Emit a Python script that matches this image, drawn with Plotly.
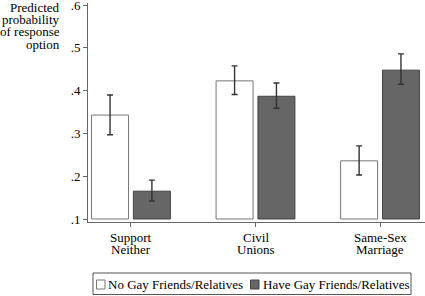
import plotly.graph_objects as go

categories = ["Support<br>Neither", "Civil<br>Unions", "Same-Sex<br>Marriage"]
series_names = ["No Gay Friends/Relatives", "Have Gay Friends/Relatives"]
no_friends = [0.343, 0.423, 0.236]
no_friends_hi = [0.390, 0.458, 0.271]
no_friends_lo = [0.297, 0.391, 0.203]
have_friends = [0.165, 0.387, 0.448]
have_friends_hi = [0.191, 0.418, 0.486]
have_friends_lo = [0.142, 0.359, 0.415]
base_value = 0.1
tick_vals = [0.1, 0.2, 0.3, 0.4, 0.5, 0.6]
tick_labels = [".1", ".2", ".3", ".4", ".5", ".6"]
y_title_lines = ["Predicted", "probability", "of response", "option"]

FONT = "Liberation Serif, DejaVu Serif, serif"
xs = list(range(len(categories)))

# layout in pixels (plot area: x 88..425, y 3..222)
L, T, PH, PW = 88, 3, 219, 337
def py(ypx):
    return (T + PH - ypx) / PH
def px(xpx):
    return (xpx - L) / PW

def bar(name, vals, hi, lo, fill, line):
    return go.Bar(
        name=name, x=xs, y=[v - base_value for v in vals], base=base_value,
        marker=dict(color=fill, line=dict(color=line, width=1)),
        error_y=dict(type="data", symmetric=False,
                     array=[h - v for h, v in zip(hi, vals)],
                     arrayminus=[v - l for v, l in zip(vals, lo)],
                     color="#333333", thickness=1.4, width=3),
        showlegend=False,
    )

fig = go.Figure()
fig.add_trace(bar(series_names[0], no_friends, no_friends_hi, no_friends_lo, "white", "#777777"))
fig.add_trace(bar(series_names[1], have_friends, have_friends_hi, have_friends_lo, "#666666", "#444444"))

annotations = []
# y-axis title, right-aligned, horizontal lines
for k, line in enumerate(y_title_lines):
    annotations.append(dict(text=line, xref="paper", yref="paper",
                            x=px(62), y=py(7 + 12.4 * k),
                            xanchor="right", yanchor="middle", showarrow=False))
# category labels (two lines each)
for i, cat in enumerate(categories):
    for k, line in enumerate(cat.split("<br>")):
        annotations.append(dict(text=line, xref="x", yref="paper",
                                x=xs[i], y=py(237 + 12.5 * k),
                                xanchor="center", yanchor="middle", showarrow=False))
# legend texts
annotations.append(dict(text=series_names[0], xref="paper", yref="paper",
                        x=px(106), y=py(284.5), xanchor="left", yanchor="middle", showarrow=False))
annotations.append(dict(text=series_names[1], xref="paper", yref="paper",
                        x=px(261), y=py(284.5), xanchor="left", yanchor="middle", showarrow=False))

shapes = [
    dict(type="rect", xref="paper", yref="paper", x0=px(93), x1=px(411),
         y0=py(273), y1=py(294.5), line=dict(color="#555555", width=1), fillcolor="white"),
    dict(type="rect", xref="paper", yref="paper", x0=px(96.5), x1=px(105),
         y0=py(280), y1=py(289), line=dict(color="#777777", width=1), fillcolor="white"),
    dict(type="rect", xref="paper", yref="paper", x0=px(250.5), x1=px(259),
         y0=py(280), y1=py(289), line=dict(color="#444444", width=1), fillcolor="#666666"),
]

fig.update_layout(
    width=425, height=296,
    margin=dict(l=L, r=0, t=T, b=296 - T - PH),
    paper_bgcolor="white", plot_bgcolor="white",
    barmode="group", bargap=0.328, bargroupgap=0.116,
    font=dict(family=FONT, size=13, color="black"),
    xaxis=dict(range=[-0.345, 2.361], tickvals=xs, showticklabels=False,
               showline=True, linecolor="#666666", linewidth=1,
               ticks="outside", ticklen=4, tickcolor="#666666",
               showgrid=False, zeroline=False, automargin=False),
    yaxis=dict(range=[0.093, 0.605], tickvals=tick_vals, ticktext=tick_labels,
               showline=True, linecolor="#666666", linewidth=1,
               ticks="outside", ticklen=4, tickcolor="#666666",
               showgrid=False, zeroline=False, automargin=False,
               ticklabeloverflow="allow"),
    annotations=annotations,
    shapes=shapes,
)

fig.write_html("out.html", config={"displayModeBar": False},
               post_script="document.body.style.margin='0px';document.body.style.overflow='hidden';")
